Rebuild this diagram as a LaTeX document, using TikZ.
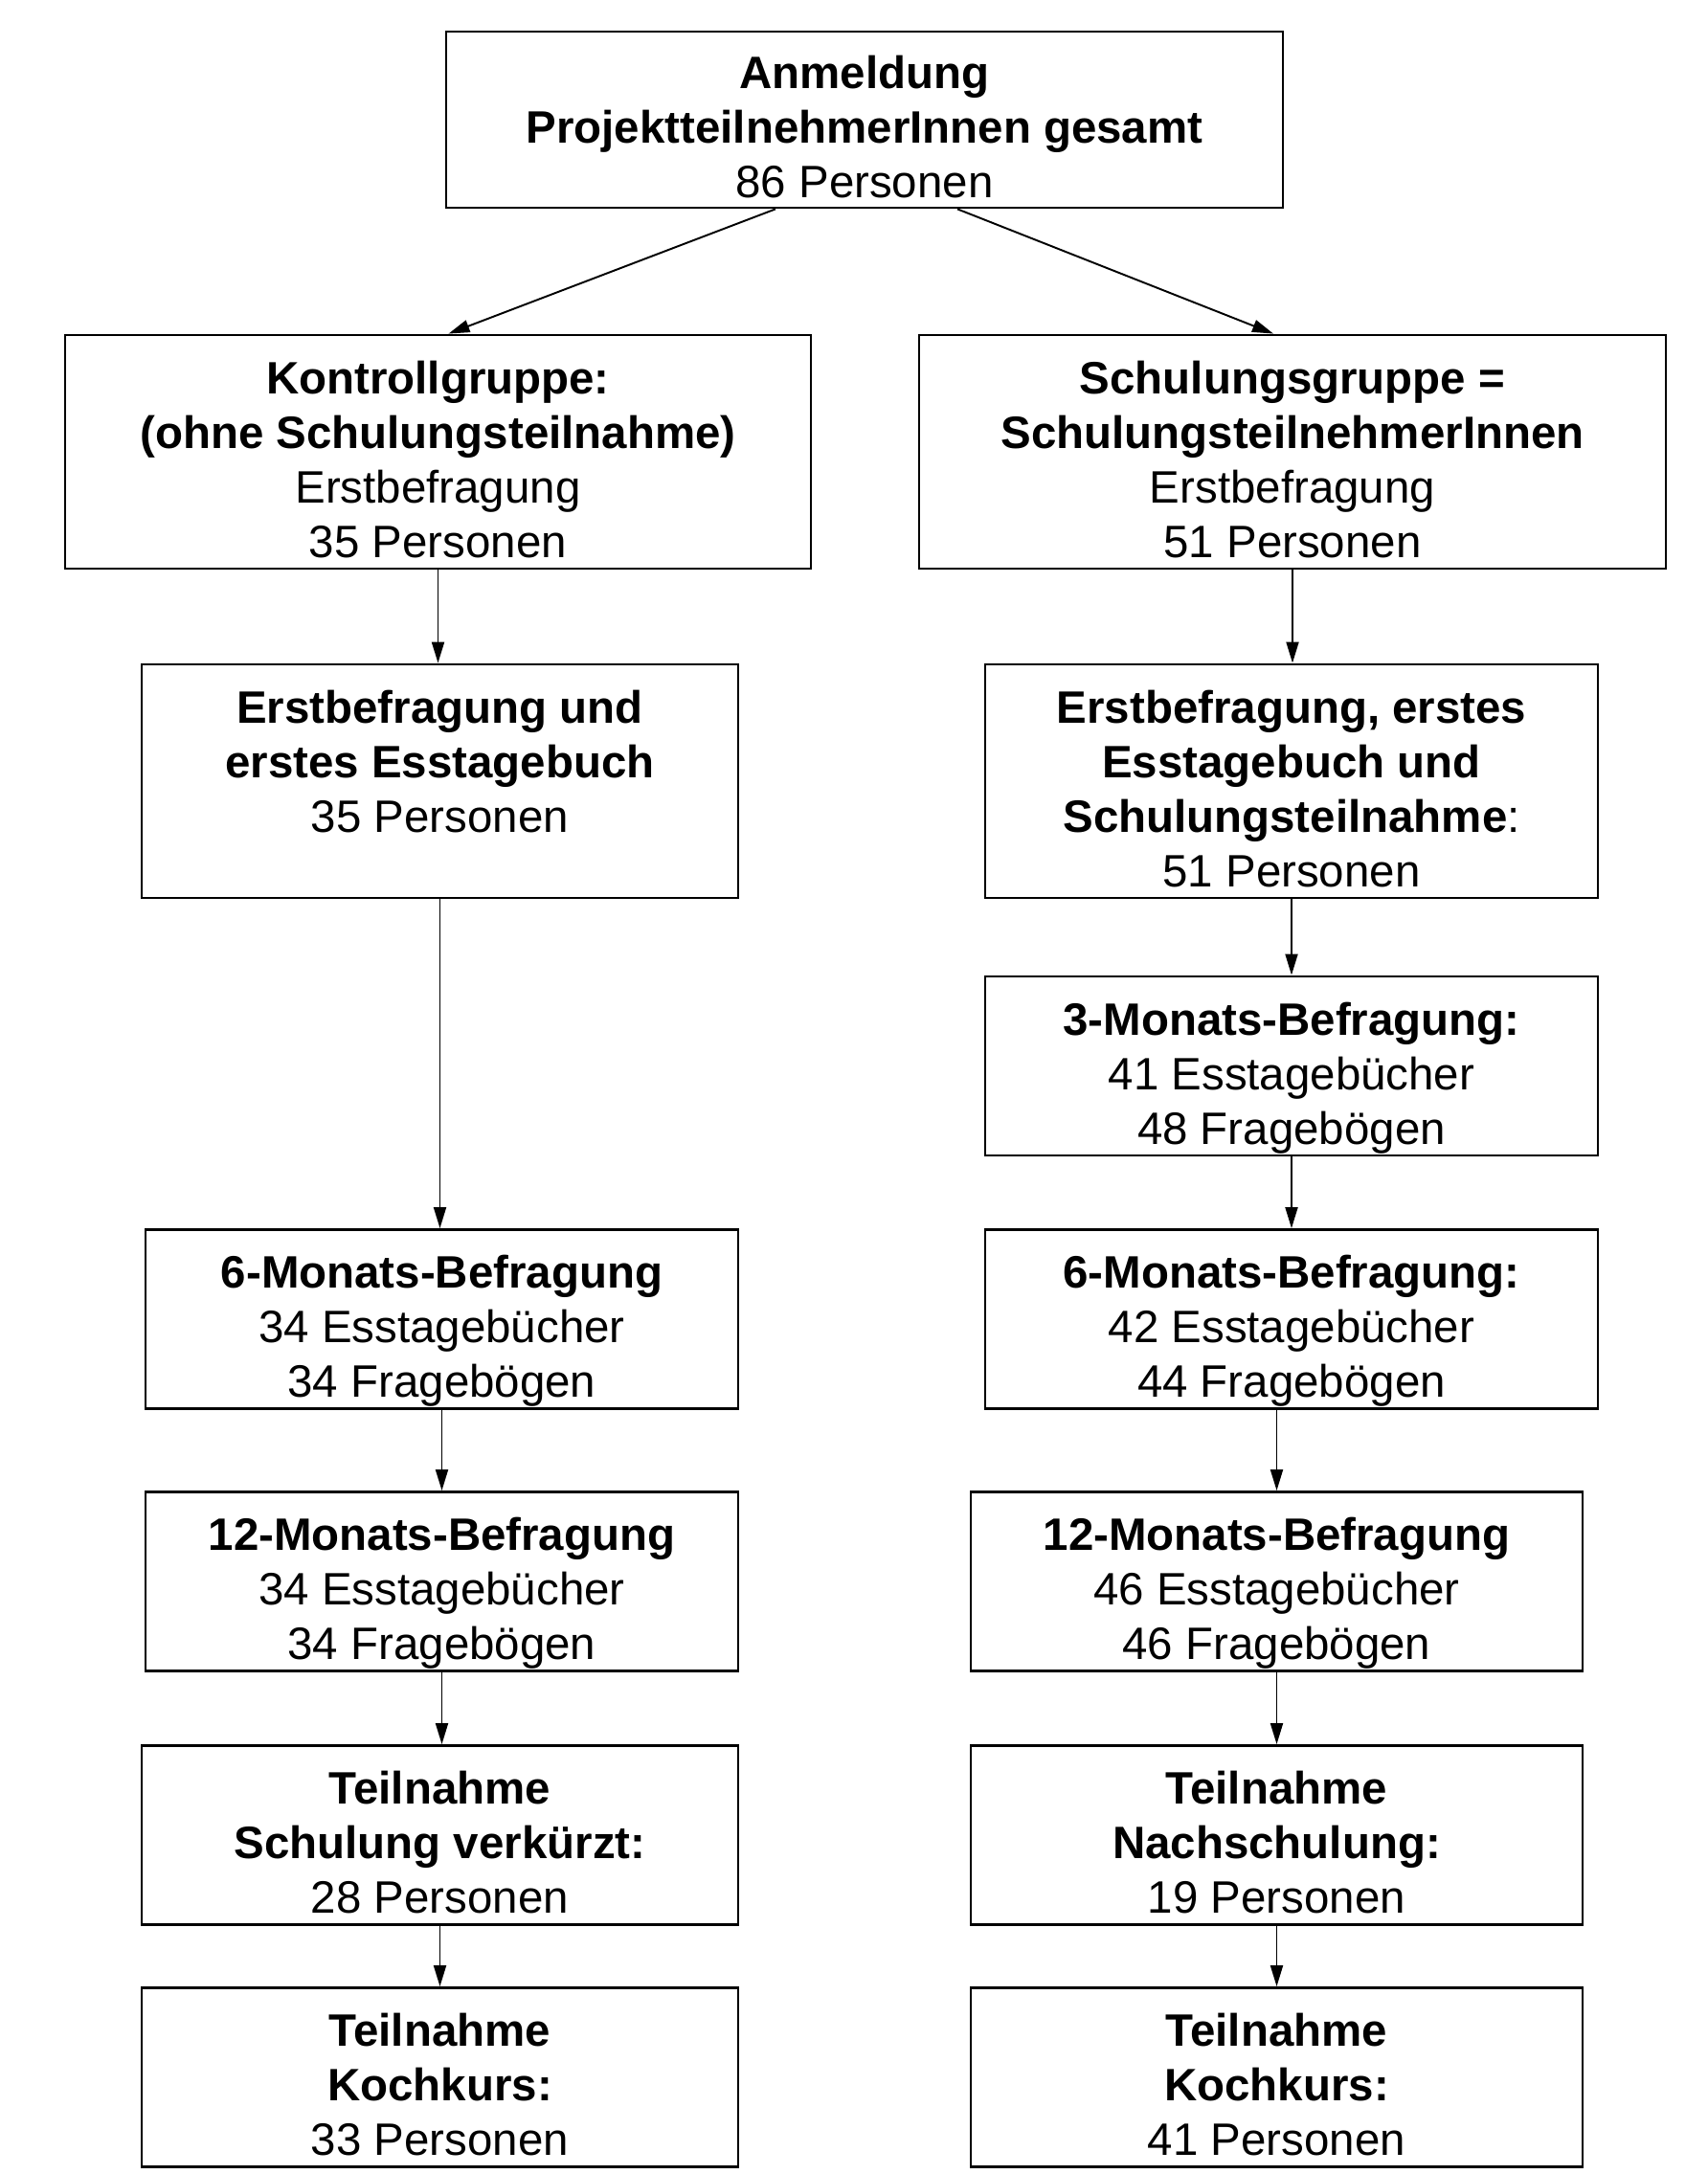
\documentclass[tikz,border=0pt]{standalone}
\usepackage{fontspec}
\setmainfont{Liberation Sans}
\usepackage{tikz}
\usetikzlibrary{arrows.meta,positioning,calc}

\tikzset{
  box/.style={draw, line width=0.8pt, align=center, inner sep=0pt, text depth=0pt,
    font=\fontsize{13.5}{16.2}\selectfont},
  box3/.style={box, minimum height=1.87cm, text height=46.5pt},
  box4/.style={box, minimum height=2.44cm, text height=62.7pt},
  flow/.style={line width=0.55pt, -{Triangle[length=2.2mm,width=1.3mm]}}
}

\begin{document}
\begin{tikzpicture}
\useasboundingbox (0,0) rectangle (17.83,22.71);

% Anmeldung (top)
\node[box3, minimum width=8.74cm, minimum height=1.84cm] (anm) at (9.03,21.46) {\textbf{Anmeldung}\\\textbf{ProjektteilnehmerInnen gesamt}\\86 Personen};

% Gruppen
\node[box4, minimum width=7.79cm] (kg) at (4.575,17.99) {\textbf{Kontrollgruppe:}\\\textbf{(ohne Schulungsteilnahme)}\\Erstbefragung\\35 Personen};
\node[box4, minimum width=7.80cm] (sg) at (13.50,17.99) {\textbf{Schulungsgruppe =}\\\textbf{SchulungsteilnehmerInnen}\\Erstbefragung\\51 Personen};

% Erstbefragung
\node[box4, minimum width=6.23cm] (kg1) at (4.595,14.55) {\textbf{Erstbefragung und}\\\textbf{erstes Esstagebuch}\\35 Personen\\~};
\node[box4, minimum width=6.40cm] (sg1) at (13.49,14.55) {\textbf{Erstbefragung, erstes}\\\textbf{Esstagebuch und}\\\textbf{Schulungsteilnahme}:\\51 Personen};

% 3 Monate
\node[box3, minimum width=6.40cm] (sg3) at (13.49,11.575) {\textbf{3-Monats-Befragung:}\\41 Esstagebücher\\48 Fragebögen};

% 6 Monate
\node[box3, minimum width=6.19cm] (kg6) at (4.615,8.93) {\textbf{6-Monats-Befragung}\\34 Esstagebücher\\34 Fragebögen};
\node[box3, minimum width=6.40cm] (sg6) at (13.49,8.93) {\textbf{6-Monats-Befragung:}\\42 Esstagebücher\\44 Fragebögen};

% 12 Monate
\node[box3, minimum width=6.19cm] (kg12) at (4.615,6.19) {\textbf{12-Monats-Befragung}\\34 Esstagebücher\\34 Fragebögen};
\node[box3, minimum width=6.39cm] (sg12) at (13.335,6.19) {\textbf{12-Monats-Befragung}\\46 Esstagebücher\\46 Fragebögen};

% Schulung / Nachschulung
\node[box3, minimum width=6.23cm] (kgs) at (4.595,3.54) {\textbf{Teilnahme}\\\textbf{Schulung verkürzt:}\\28 Personen};
\node[box3, minimum width=6.39cm] (sgn) at (13.335,3.54) {\textbf{Teilnahme}\\\textbf{Nachschulung:}\\19 Personen};

% Kochkurs
\node[box3, minimum width=6.23cm] (kgk) at (4.595,1.01) {\textbf{Teilnahme}\\\textbf{Kochkurs:}\\33 Personen};
\node[box3, minimum width=6.39cm] (sgk) at (13.335,1.01) {\textbf{Teilnahme}\\\textbf{Kochkurs:}\\41 Personen};

% Pfeile
\draw[flow] ([xshift=-0.93cm]anm.south) -- ([xshift=0.11cm]kg.north);
\draw[flow] ([xshift=0.97cm]anm.south) -- ([xshift=-0.20cm]sg.north);
\draw[flow] (kg.south) -- (kg.south |- kg1.north);
\draw[flow] (sg.south) -- (sg.south |- sg1.north);
\draw[flow] (kg1.south) -- (kg1.south |- kg6.north);
\draw[flow] (sg1.south) -- (sg1.south |- sg3.north);
\draw[flow] (sg3.south) -- (sg3.south |- sg6.north);
\draw[flow] (kg6.south) -- (kg6.south |- kg12.north);
\draw[flow] (sg6.south -| sg12.north) -- (sg12.north);
\draw[flow] (kg12.south) -- (kg12.south |- kgs.north);
\draw[flow] (sg12.south) -- (sgn.north);
\draw[flow] (kgs.south) -- (kgs.south |- kgk.north);
\draw[flow] (sgn.south) -- (sgk.north);

\end{tikzpicture}
\end{document}
